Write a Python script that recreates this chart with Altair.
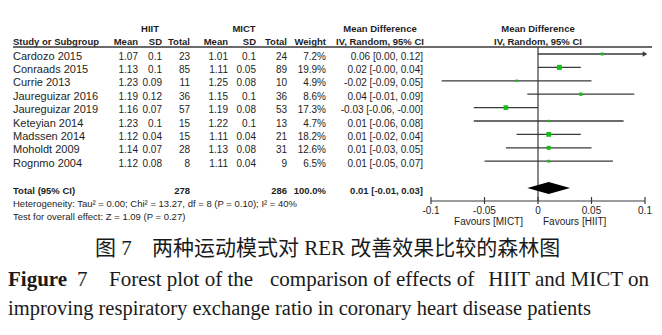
import altair as alt
import pandas as pd

# ---------------- data ----------------
studies = ["Cardozo 2015", "Conraads 2015", "Currie 2013", "Jaureguizar 2016",
           "Jaureguizar 2019", "Keteyian 2014", "Madssen 2014", "Moholdt 2009", "Rognmo 2004"]
hiit_mean = [1.07, 1.13, 1.23, 1.19, 1.16, 1.23, 1.12, 1.14, 1.12]
hiit_sd = [0.1, 0.1, 0.09, 0.12, 0.07, 0.1, 0.04, 0.07, 0.08]
hiit_n = [23, 85, 11, 36, 57, 15, 15, 28, 8]
mict_mean = [1.01, 1.11, 1.25, 1.15, 1.19, 1.22, 1.11, 1.13, 1.11]
mict_sd = [0.1, 0.05, 0.08, 0.1, 0.08, 0.1, 0.04, 0.08, 0.04]
mict_n = [24, 89, 10, 36, 53, 13, 21, 31, 9]
weights = [7.2, 19.9, 4.9, 8.6, 17.3, 4.7, 18.2, 12.6, 6.5]
md = [0.06, 0.02, -0.02, 0.04, -0.03, 0.01, 0.01, 0.01, 0.01]
ci_low = [0.00, -0.0, -0.09, -0.01, -0.06, -0.06, -0.02, -0.03, -0.05]
ci_high = [0.12, 0.04, 0.05, 0.09, -0.0, 0.08, 0.04, 0.05, 0.07]

total_label = "Total (95% CI)"
total_hiit_n = 278
total_mict_n = 286
total_weight = 100.0
total_md = 0.01
total_low = -0.01
total_high = 0.03
heterogeneity = "Heterogeneity: Tau\u00b2 = 0.00; Chi\u00b2 = 13.27, df = 8 (P = 0.10); I\u00b2 = 40%"
overall_test = "Test for overall effect: Z = 1.09 (P = 0.27)"

tick_values = [-0.1, -0.05, 0, 0.05, 0.1]
tick_labels = ["-0.1", "-0.05", "0", "0.05", "0.1"]
favours_left = "Favours [MICT]"
favours_right = "Favours [HIIT]"

caption_cn_num = "\u56fe 7"
caption_cn = "\u4e24\u79cd\u8fd0\u52a8\u6a21\u5f0f\u5bf9 RER \u6539\u5584\u6548\u679c\u6bd4\u8f83\u7684\u68ee\u6797\u56fe"
caption_en_fig = "Figure"
caption_en_num = "7"
caption_en_1a = "Forest plot of the"
caption_en_1b = "comparison of effects of"
caption_en_1c = "HIIT and MICT on"
caption_en_2 = "improving respiratory exchange ratio in coronary heart disease patients"

# ---------------- tables ----------------
n = len(studies)
df = pd.DataFrame({
    "row": list(range(n)),
    "study": studies,
    "m1": [f"{v:g}" for v in hiit_mean],
    "s1": [f"{v:g}" for v in hiit_sd],
    "n1": [str(v) for v in hiit_n],
    "m2": [f"{v:g}" for v in mict_mean],
    "s2": [f"{v:g}" for v in mict_sd],
    "n2": [str(v) for v in mict_n],
    "w": [f"{v:.1f}%" for v in weights],
    "weight": weights,
    "md": md,
    "lo": ci_low,
    "hi": ci_high,
    "ci": [f"{a:.2f} [{b:.2f}, {c:.2f}]" for a, b, c in zip(md, ci_low, ci_high)],
})

TOTAL_ROW = 10
tot = pd.DataFrame({
    "row": [TOTAL_ROW],
    "label": [total_label],
    "n1": [str(total_hiit_n)],
    "n2": [str(total_mict_n)],
    "w": [f"{total_weight:.1f}%"],
    "ci": [f"{total_md:.2f} [{total_low:.2f}, {total_high:.2f}]"],
})

DIA_H = 0.45
diamond = pd.DataFrame({
    "x": [total_low, total_md, total_high],
    "y": [TOTAL_ROW, TOTAL_ROW - DIA_H, TOTAL_ROW],
    "y2": [TOTAL_ROW, TOTAL_ROW + DIA_H, TOTAL_ROW],
})

ticks = pd.DataFrame({"t": tick_values, "lab": tick_labels})

# ---------------- styles ----------------
FONT = "Liberation Sans"
SERIF = "Liberation Serif, Noto Sans CJK SC"
TXT = "#1e1e1e"
LINE = "#3a3a3a"
FS_NAME = 11
FS_NUM = 10
FS_HEAD = 9.5
FS_FOOT = 9.5

xscale = alt.Scale(domain=[-0.1, 0.1], range=[431, 645], clamp=True, nice=False, zero=False)
yscale = alt.Scale(domain=[0, 12], range=[54, 54 + 13.4 * 12], nice=False, zero=False)
Y = alt.Y("row:Q", scale=yscale, axis=None)


def column(data, field, xpx, align="right", bold=False, size=FS_NUM):
    return alt.Chart(data).mark_text(
        align=align, baseline="middle", dy=2.5, font=FONT, fontSize=size,
        fontWeight="bold" if bold else "normal", color=TXT
    ).encode(x=alt.value(xpx), y=Y, text=f"{field}:N")


def label(text, xpx, ypx, align="left", bold=False, size=FS_HEAD, font=FONT, color=TXT):
    return alt.Chart(pd.DataFrame({"t": [text]})).mark_text(
        align=align, baseline="middle", font=font, fontSize=size,
        fontWeight="bold" if bold else "normal", color=color
    ).encode(x=alt.value(xpx), y=alt.value(ypx), text="t:N")


# column right edges (px)
C_STUDY, C_M1, C_S1, C_N1, C_M2, C_S2, C_N2, C_W, C_CI = 13, 138, 162, 190, 228, 256, 287, 326, 423

layers = []

# headers
HY1, HY2 = 28.5, 41.5
layers += [
    label("HIIT", 150, HY1, align="center", bold=True),
    label("MICT", 244, HY1, align="center", bold=True),
    label("Mean Difference", 380, HY1, align="center", bold=True),
    label("Mean Difference", 538, HY1, align="center", bold=True),
    label("Study or Subgroup", C_STUDY, HY2, bold=True),
    label("Mean", C_M1, HY2, align="right", bold=True),
    label("SD", C_S1, HY2, align="right", bold=True),
    label("Total", C_N1, HY2, align="right", bold=True),
    label("Mean", C_M2, HY2, align="right", bold=True),
    label("SD", C_S2, HY2, align="right", bold=True),
    label("Total", C_N2, HY2, align="right", bold=True),
    label("Weight", C_W, HY2, align="right", bold=True),
    label("IV, Random, 95% CI", 380, HY2, align="center", bold=True),
    label("IV, Random, 95% CI", 538, HY2, align="center", bold=True),
]

# header rule
layers.append(alt.Chart(pd.DataFrame({"a": [0]})).mark_rule(color=LINE, strokeWidth=1.4).encode(
    x=alt.value(13), x2=alt.value(652), y=alt.value(47)))

# study rows
layers += [
    column(df, "study", C_STUDY, align="left", size=FS_NAME),
    column(df, "m1", C_M1), column(df, "s1", C_S1), column(df, "n1", C_N1),
    column(df, "m2", C_M2), column(df, "s2", C_S2), column(df, "n2", C_N2),
    column(df, "w", C_W), column(df, "ci", C_CI),
]

# total row
layers += [
    column(tot, "label", C_STUDY, align="left", bold=True, size=FS_HEAD),
    column(tot, "n1", C_N1, bold=True, size=FS_HEAD),
    column(tot, "n2", C_N2, bold=True, size=FS_HEAD),
    column(tot, "w", C_W, bold=True, size=FS_HEAD),
    column(tot, "ci", C_CI, bold=True, size=FS_HEAD),
]

# footers
layers += [
    label(heterogeneity, C_STUDY, 204, size=FS_FOOT),
    label(overall_test, C_STUDY, 217, size=FS_FOOT),
]

# zero line
layers.append(alt.Chart(pd.DataFrame({"x": [0]})).mark_rule(color=LINE, strokeWidth=1.2).encode(
    x=alt.X("x:Q", scale=xscale, axis=None), y=alt.value(47), y2=alt.value(201)))

# CI lines
layers.append(alt.Chart(df).mark_rule(color=LINE, strokeWidth=1.3).encode(
    x=alt.X("lo:Q", scale=xscale, axis=None), x2="hi:Q", y=Y))

# arrow for CI beyond axis
layers.append(alt.Chart(df).transform_filter("datum.hi > 0.1").mark_point(
    shape="triangle-right", filled=True, size=28, color=LINE, opacity=1).encode(
    x=alt.X("hi:Q", scale=xscale, axis=None), y=Y))

# squares
layers.append(alt.Chart(df).mark_point(shape="square", filled=True, color="#12c012", opacity=1).encode(
    x=alt.X("md:Q", scale=xscale, axis=None), y=Y,
    size=alt.Size("weight:Q", scale=alt.Scale(domain=[0, 20], range=[0, 25]), legend=None)))

# diamond
layers.append(alt.Chart(diamond).mark_area(color="black", orient="vertical").encode(
    x=alt.X("x:Q", scale=xscale, axis=None),
    y=alt.Y("y:Q", scale=yscale, axis=None), y2="y2:Q"))

# axis
AXY = 201
layers.append(alt.Chart(pd.DataFrame({"a": [tick_values[0]], "b": [tick_values[-1]]})).mark_rule(
    color=LINE, strokeWidth=1.2).encode(
    x=alt.X("a:Q", scale=xscale, axis=None), x2="b:Q", y=alt.value(AXY)))
layers.append(alt.Chart(ticks).mark_rule(color=LINE, strokeWidth=1.2).encode(
    x=alt.X("t:Q", scale=xscale, axis=None), y=alt.value(AXY - 4), y2=alt.value(AXY + 3)))
layers.append(alt.Chart(ticks).mark_text(font=FONT, fontSize=FS_NUM, color=TXT, baseline="middle").encode(
    x=alt.X("t:Q", scale=xscale, axis=None), y=alt.value(211), text="lab:N"))
layers.append(alt.Chart(pd.DataFrame({"x": [0], "t": [favours_left]})).mark_text(
    font=FONT, fontSize=FS_NUM, color=TXT, baseline="middle", align="right", dx=-15).encode(
    x=alt.X("x:Q", scale=xscale, axis=None), y=alt.value(222), text="t:N"))
layers.append(alt.Chart(pd.DataFrame({"x": [0], "t": [favours_right]})).mark_text(
    font=FONT, fontSize=FS_NUM, color=TXT, baseline="middle", align="left", dx=5).encode(
    x=alt.X("x:Q", scale=xscale, axis=None), y=alt.value(222), text="t:N"))

# captions
CAP = "#1a1a1a"
layers += [
    label(caption_cn_num, 95, 249, size=21, font=SERIF, color=CAP),
    label(caption_cn, 152, 249, size=21, font=SERIF, color=CAP),
    label(caption_en_fig, 8, 280, size=21, font=SERIF, bold=True, color=CAP),
    label(caption_en_num, 77, 280, size=21, font=SERIF, color=CAP),
    label(caption_en_1a, 109, 280, size=21, font=SERIF, color=CAP),
    label(caption_en_1b, 270, 280, size=21, font=SERIF, color=CAP),
    label(caption_en_1c, 649, 280, align="right", size=21, font=SERIF, color=CAP),
    label(caption_en_2, 8, 309, size=20.5, font=SERIF, color=CAP),
]

chart = alt.layer(*layers).properties(
    width=662, height=335, padding=0, autosize=alt.AutoSizeParams(type="none"),
    background="white"
).configure_view(stroke=None)

chart.save("out.html", embed_options={"renderer": "svg", "actions": False})
